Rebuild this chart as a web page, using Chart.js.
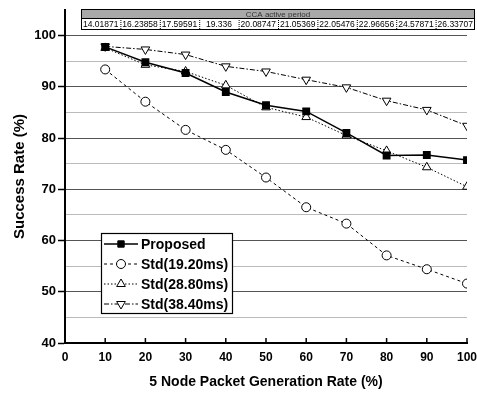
<!DOCTYPE html>
<html>
<head>
<meta charset="utf-8">
<script src="https://cdn.jsdelivr.net/npm/chart.js@4/dist/chart.umd.min.js"></script>
<style>
  html, body { margin: 0; padding: 0; background: #fff; }
  #wrap { width: 477px; height: 396px; }
</style>
</head>
<body>
<div id="wrap"><canvas id="chart" width="477" height="396"></canvas></div>
<script>
// rates on the x axis
const rates = [10, 20, 30, 40, 50, 60, 70, 80, 90, 100];
// success rate (%) per series
const proposed = [97.8, 94.8, 92.7, 89.0, 86.4, 85.2, 81.0, 76.6, 76.7, 75.7];
const std1920 = [93.4, 87.1, 81.6, 77.7, 72.3, 66.5, 63.3, 57.1, 54.4, 51.6];
const std2880 = [97.6, 94.3, 93.0, 90.3, 86.0, 84.1, 80.5, 77.5, 74.3, 70.5];
const std3840 = [97.9, 97.3, 96.3, 94.0, 93.0, 91.4, 89.9, 87.3, 85.5, 82.4];
const seriesNames = ['Proposed', 'Std(19.20ms)', 'Std(28.80ms)', 'Std(38.40ms)'];
// table above the plot
const tableTitle = 'CCA active period';
const ccaPeriods = ['14.01871', '16.23858', '17.59591', '19.336', '20.08747',
                    '21.05369', '22.05476', '22.96656', '24.57871', '26.33707'];

const FONT = 'Liberation Sans, Arial, sans-serif';
const pts = arr => arr.map((v, i) => ({x: rates[i], y: v}));

const series = [
  {label: seriesNames[0], data: pts(proposed), borderColor: '#000', backgroundColor: '#000',
   borderWidth: 1.5, pointStyle: 'rect', pointRadius: 4.5, borderDash: []},
  {label: seriesNames[1], data: pts(std1920), borderColor: '#000', backgroundColor: '#fff',
   borderWidth: 1, pointStyle: 'circle', pointRadius: 4.5, borderDash: [3, 3]},
  {label: seriesNames[2], data: pts(std2880), borderColor: '#000', backgroundColor: '#fff',
   borderWidth: 1, pointStyle: 'triangle', pointRadius: 5, borderDash: [1.5, 2]},
  {label: seriesNames[3], data: pts(std3840), borderColor: '#000', backgroundColor: '#fff',
   borderWidth: 1, pointStyle: 'triangle', pointRotation: 180, pointRadius: 5, borderDash: [5, 2, 1.5, 2]}
];

// legend box drawn inside the plot, like the original
const boxLegend = {
  id: 'boxLegend',
  afterDatasetsDraw(chart) {
    const ctx = chart.ctx;
    const bx = 101, by = 233, bw = 131, bh = 80;
    ctx.save();
    ctx.fillStyle = '#fff';
    ctx.fillRect(bx, by, bw, bh);
    ctx.strokeStyle = '#000';
    ctx.lineWidth = 1.2;
    ctx.strokeRect(bx + 0.5, by + 0.5, bw, bh);
    chart.data.datasets.forEach((ds, i) => {
      const y = by + 11 + i * 20;
      ctx.strokeStyle = '#000';
      ctx.lineWidth = ds.borderWidth;
      ctx.setLineDash(ds.borderDash);
      ctx.beginPath();
      ctx.moveTo(bx + 3, y);
      ctx.lineTo(bx + 37, y);
      ctx.stroke();
      ctx.setLineDash([]);
      ctx.fillStyle = ds.backgroundColor;
      ctx.lineWidth = 1;
      Chart.helpers.drawPoint(ctx, {pointStyle: ds.pointStyle, radius: ds.pointRadius,
        rotation: ds.pointRotation || 0, borderWidth: 1}, bx + 20, y);
      ctx.fillStyle = '#000';
      ctx.font = 'bold 14px ' + FONT;
      ctx.textBaseline = 'middle';
      ctx.textAlign = 'left';
      ctx.fillText(ds.label, bx + 40, y + 1);
    });
    ctx.restore();
  }
};

// the CCA table on top, plus inward x ticks
const extras = {
  id: 'extras',
  afterDraw(chart) {
    const ctx = chart.ctx;
    const x0 = 81, x1 = 475, y0 = 9, yMid = 18, y1 = 29;
    const cw = (x1 - x0) / ccaPeriods.length;
    ctx.save();
    ctx.fillStyle = '#fff';
    ctx.fillRect(x0, y0, x1 - x0, y1 - y0);
    ctx.fillStyle = '#a9a9a9';
    ctx.fillRect(x0, y0, x1 - x0, yMid - y0);
    ctx.strokeStyle = '#000';
    ctx.lineWidth = 1;
    ctx.strokeRect(x0 + 0.5, y0 + 0.5, x1 - x0 - 1, y1 - y0);
    ctx.beginPath();
    ctx.moveTo(x0, yMid + 0.5);
    ctx.lineTo(x1, yMid + 0.5);
    ctx.stroke();
    ctx.fillStyle = '#333';
    ctx.font = '8px ' + FONT;
    ctx.textAlign = 'center';
    ctx.textBaseline = 'middle';
    ctx.fillText(tableTitle, (x0 + x1) / 2, (y0 + yMid) / 2 + 1);
    ctx.fillStyle = '#000';
    ctx.font = '8.5px ' + FONT;
    ccaPeriods.forEach((t, i) => {
      ctx.fillText(t, x0 + cw * (i + 0.5), (yMid + y1) / 2 + 1);
      if (i > 0) {
        ctx.setLineDash([1, 1]);
        ctx.beginPath();
        ctx.moveTo(x0 + cw * i + 0.5, yMid);
        ctx.lineTo(x0 + cw * i + 0.5, y1);
        ctx.stroke();
        ctx.setLineDash([]);
      }
    });
    const xs = chart.scales.x, bottom = chart.chartArea.bottom;
    ctx.lineWidth = 1.5;
    rates.forEach(r => {
      const px = xs.getPixelForValue(r);
      ctx.beginPath();
      ctx.moveTo(px, bottom);
      ctx.lineTo(px, bottom - 5);
      ctx.stroke();
    });
    ctx.restore();
  }
};

new Chart(document.getElementById('chart'), {
  type: 'line',
  data: {datasets: series},
  options: {
    responsive: false,
    animation: false,
    layout: {padding: {top: 10, right: 10, left: 0, bottom: 0}},
    plugins: {legend: {display: false}, tooltip: {enabled: false}},
    elements: {line: {tension: 0}, point: {borderWidth: 1, borderColor: '#000'}},
    scales: {
      x: {
        type: 'linear', min: 0, max: 100,
        border: {color: '#000', width: 2},
        grid: {drawOnChartArea: false, drawTicks: false},
        ticks: {stepSize: 10, color: '#000', padding: 7, maxRotation: 0,
                font: {family: FONT, size: 12, weight: 'bold'}},
        title: {display: true, text: '5 Node Packet Generation Rate (%)', color: '#000',
                font: {family: FONT, size: 14, weight: 'bold'}, padding: {top: 0, bottom: 5}},
        afterFit: s => { s.height = 53; s.paddingRight = 0; s.paddingLeft = 0; }
      },
      y: {
        min: 40, max: 105,
        border: {color: '#000', width: 2},
        grid: {
          color: c => {
            const v = c.tick.value;
            if (v >= 105 || v <= 40) return 'rgba(0,0,0,0)';
            return v % 10 === 0 ? '#555' : '#aaa';
          },
          lineWidth: c => c.tick.value % 10 === 0 ? 1 : 0.8,
          tickColor: c => (c.tick.value % 10 === 0 && c.tick.value <= 100) ? '#000' : 'rgba(0,0,0,0)',
          tickLength: 7,
          tickWidth: 1.5
        },
        ticks: {stepSize: 5, color: '#000', padding: 2,
                font: {family: FONT, size: 13, weight: 'bold'},
                callback: v => (v % 10 === 0 && v <= 100) ? String(v) : ''},
        title: {display: true, text: 'Success Rate (%)', color: '#000',
                font: {family: FONT, size: 15, weight: 'bold'}, padding: {top: 11, bottom: 0}},
        afterFit: s => { s.width = 65; s.paddingTop = 0; s.paddingBottom = 0; }
      }
    }
  },
  plugins: [boxLegend, extras]
});
</script>
</body>
</html>
